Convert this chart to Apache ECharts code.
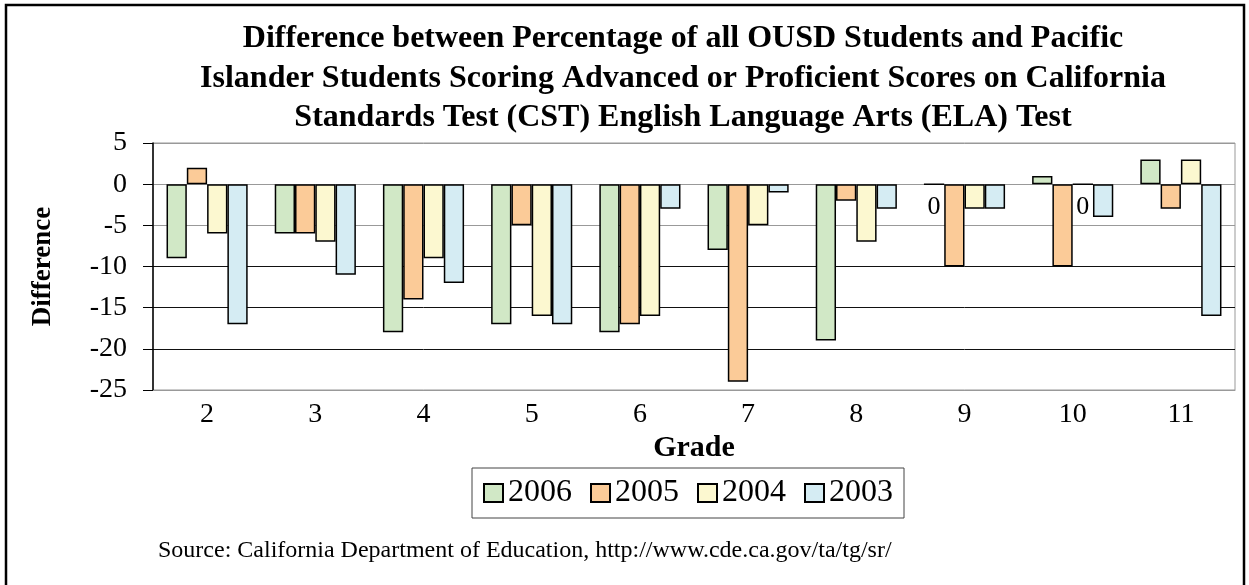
<!DOCTYPE html>
<html>
<head>
<meta charset="utf-8">
<script src="https://cdn.jsdelivr.net/npm/echarts@6/dist/echarts.min.js"></script>
<style>
  html, body { margin: 0; padding: 0; background: #fff; }
  #chart { width: 1249px; height: 585px; }
</style>
</head>
<body>
<div id="chart"></div>
<script>
  const grades = ['2', '3', '4', '5', '6', '7', '8', '9', '10', '11'];
  const years = ['2006', '2005', '2004', '2003'];
  const v2006 = [-9, -6, -18, -17, -18, -8, -19, 0, 1, 3];
  const v2005 = [2, -6, -14, -5, -17, -24, -2, -10, -10, -3];
  const v2004 = [-6, -7, -9, -16, -16, -5, -7, -3, 0, 3];
  const v2003 = [-17, -11, -12, -17, -3, -1, -3, -3, -4, -16];
  const yTicks = [-25, -20, -15, -10, -5, 0, 5];

  const colors = ['#d1e8c6', '#fbcb98', '#fcf8d0', '#d5ecf3'];
  const serif = '"Liberation Serif", "DejaVu Serif", serif';

  // zero bars get a "0" label like in the original
  function items(vals) {
    return vals.map(v => v === 0
      ? { value: v, label: { show: true, position: 'bottom', distance: 9, formatter: '0', fontSize: 26, fontFamily: serif, color: '#000' } }
      : v);
  }

  const series = [v2006, v2005, v2004, v2003].map((vals, i) => ({
    name: years[i],
    type: 'bar',
    data: items(vals),
    barGap: '0%',
    barCategoryGap: '25%',
    itemStyle: { color: colors[i], borderColor: '#000', borderWidth: 1.5 }
  }));

  const option = {
    animation: false,
    backgroundColor: '#fff',
    title: {
      text: 'Difference between Percentage of all OUSD Students and Pacific\nIslander Students Scoring Advanced or Proficient Scores on California\nStandards Test (CST) English Language Arts (ELA) Test',
      left: 683,
      textAlign: 'center',
      top: 19,
      padding: 0,
      textStyle: { fontFamily: serif, fontWeight: 'bold', fontSize: 32, lineHeight: 39.5, color: '#000' }
    },
    legend: {
      data: years,
      left: 472,
      top: 468,
      padding: [9, 11],
      itemWidth: 19,
      itemHeight: 18,
      itemGap: 18,
      icon: 'rect',
      borderColor: '#444',
      borderWidth: 1,
      textStyle: { fontFamily: serif, fontSize: 32, color: '#000' }
    },
    grid: {
      left: 153,
      right: 14,
      top: 143,
      bottom: 195,
      show: true,
      borderColor: '#999',
      borderWidth: 1
    },
    xAxis: {
      type: 'category',
      data: grades,
      name: 'Grade',
      nameLocation: 'middle',
      nameGap: 43,
      nameTextStyle: { fontFamily: serif, fontWeight: 'bold', fontSize: 30, color: '#000' },
      axisLine: { onZero: false, lineStyle: { color: '#999', width: 1 } },
      axisTick: { show: false },
      axisLabel: { fontFamily: serif, fontSize: 28, color: '#000', margin: 11 }
    },
    yAxis: {
      type: 'value',
      min: yTicks[0],
      max: yTicks[yTicks.length - 1],
      interval: 5,
      name: 'Difference',
      nameLocation: 'middle',
      nameGap: 96,
      nameRotate: 90,
      nameTextStyle: { fontFamily: serif, fontWeight: 'bold', fontSize: 27, color: '#000' },
      axisLine: { show: true, lineStyle: { color: '#000', width: 1.5 } },
      axisTick: { show: true, length: 10, lineStyle: { color: '#000' } },
      axisLabel: { fontFamily: serif, fontSize: 28, color: '#000', margin: 26 },
      splitLine: { lineStyle: { color: ['#999', '#111', '#111', '#111', '#999', '#999', '#999'], width: 1 } }
    },
    graphic: [
      {
        type: 'rect',
        shape: { x: 6, y: 5, width: 1238, height: 620 },
        style: { fill: 'none', stroke: '#000', lineWidth: 2.5 },
        silent: true
      },
      {
        type: 'text',
        left: 158,
        top: 539,
        style: { text: 'Source: California Department of Education, http://www.cde.ca.gov/ta/tg/sr/', font: '24px ' + serif, fill: '#000' }
      }
    ],
    series: series
  };

  const chart = echarts.init(document.getElementById('chart'));
  chart.setOption(option);
</script>
</body>
</html>
